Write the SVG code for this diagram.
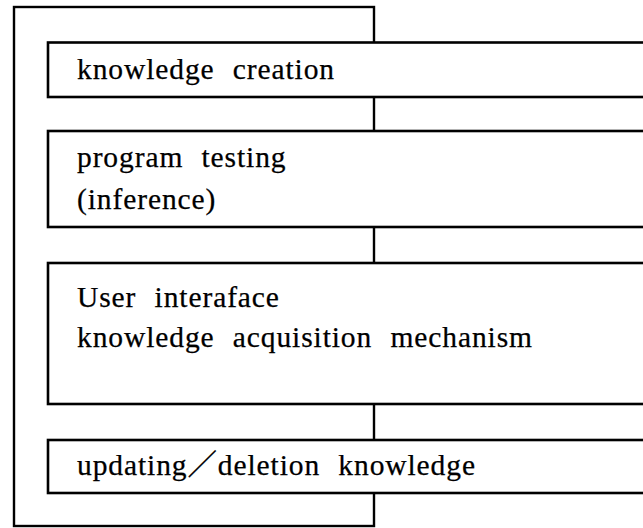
<svg xmlns="http://www.w3.org/2000/svg" width="643" height="528" viewBox="0 0 643 528">
<style>
.box{fill:#fff;stroke:#000;stroke-width:2.6}
.loop{fill:none;stroke:#000;stroke-width:2.4}
.t{font-family:"Liberation Serif","Noto Sans CJK JP",serif;font-size:29.5px;fill:#000;stroke:#000;stroke-width:0.25;letter-spacing:0.9px;word-spacing:10px}
</style>
<rect width="643" height="528" fill="#fff"/>
<g id="connectors">
<rect class="loop" x="14" y="7" width="360" height="519"/>
</g>
<g id="node-creation">
<rect class="box" x="48" y="42.5" width="610" height="54.5"/>
<text class="t" x="77" y="79">knowledge creation</text>
</g>
<g id="node-testing">
<rect class="box" x="48" y="131" width="610" height="96"/>
<text class="t" x="77" y="167">program testing</text>
<text class="t" x="77" y="209">(inference)</text>
</g>
<g id="node-interface">
<rect class="box" x="48" y="263" width="610" height="141"/>
<text class="t" x="77" y="307">User interaface</text>
<text class="t" x="77" y="347">knowledge acquisition mechanism</text>
</g>
<g id="node-updating">
<rect class="box" x="48" y="440" width="610" height="53"/>
<text class="t" x="77" y="475">updating／deletion knowledge</text>
</g>
</svg>
